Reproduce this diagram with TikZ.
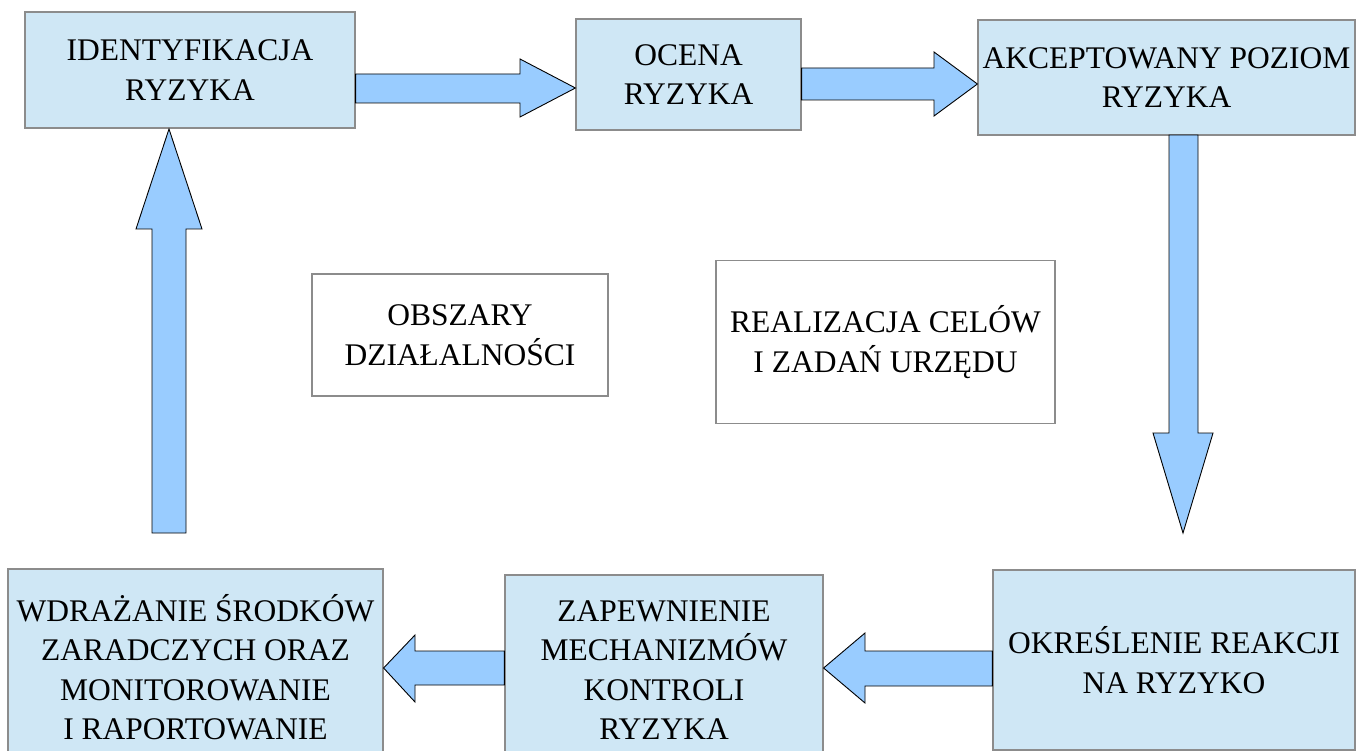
\documentclass[tikz,border=0pt]{standalone}
\usepackage{fontspec}
\setmainfont{Liberation Serif}
\definecolor{boxfill}{HTML}{CFE7F5}
\definecolor{arrowfill}{HTML}{99CCFF}
\definecolor{boxline}{HTML}{8C8C8C}
\begin{document}
\begin{tikzpicture}[x=1pt,y=-1pt,
  txt/.style={font=\fontsize{31.5}{39.5}\selectfont, align=center, inner sep=0pt, text=black},
  bluebox/.style={txt, rectangle, draw=boxline, line width=1.2pt, fill=boxfill},
  whitebox/.style={txt, rectangle, draw=boxline, line width=1.2pt, fill=white},
  barrow/.style={draw=black, line width=0.9pt, fill=arrowfill, line join=miter}]
\useasboundingbox (0,0) rectangle (1356,751);
\fill[white] (0,0) rectangle (1356,751);

% boxes
\node[bluebox, minimum width=330pt, minimum height=116pt] (b1) at (190,70) {IDENTYFIKACJA\\RYZYKA};
\node[bluebox, minimum width=225pt, minimum height=111pt] (b2) at (688.5,74.5) {OCENA\\RYZYKA};
\node[bluebox, minimum width=377pt, minimum height=115pt] (b3) at (1166.5,77.5) {AKCEPTOWANY POZIOM\\RYZYKA};
\node[bluebox, minimum width=362pt, minimum height=180pt] (b4) at (1174,660) {OKREŚLENIE REAKCJI\\NA RYZYKO};
\node[bluebox, minimum width=318pt, minimum height=190pt] (b5) at (664,670) {ZAPEWNIENIE\\MECHANIZMÓW\\KONTROLI\\RYZYKA};
\node[bluebox, minimum width=375pt, minimum height=196pt] (b6) at (195.5,667) {WDRAŻANIE ŚRODKÓW\\ZARADCZYCH ORAZ\\MONITOROWANIE\\I RAPORTOWANIE};
\node[whitebox, minimum width=296pt, minimum height=122pt] (m1) at (460,335) {OBSZARY\\DZIAŁALNOŚCI};
\node[whitebox, minimum width=339pt, minimum height=163pt] (m2) at (885.5,342) {REALIZACJA CELÓW\\I ZADAŃ URZĘDU};

% block arrows
% b1 -> b2
\draw[barrow] (b1.east |- 0,74) -- (520,74) -- (520,59) -- (b2.west |- 0,88) -- (520,117) -- (520,103) -- (b1.east |- 0,103) -- cycle;
% b2 -> b3
\draw[barrow] (b2.east |- 0,68) -- (934,68) -- (934,52) -- (b3.west |- 0,84) -- (934,116) -- (934,100) -- (b2.east |- 0,100) -- cycle;
% b3 -> b4
\draw[barrow] (1169,135) -- (1169,433) -- (1153,433) -- (1183,533) -- (1213,433) -- (1198,433) -- (1198,135) -- cycle;
% b4 -> b5
\draw[barrow] (b4.west |- 0,651) -- (865,651) -- (865,633) -- (b5.east |- 0,668) -- (865,703) -- (865,686) -- (b4.west |- 0,686) -- cycle;
% b5 -> b6
\draw[barrow] (b5.west |- 0,651) -- (415,651) -- (415,635) -- (b6.east |- 0,668) -- (415,702) -- (415,685) -- (b5.west |- 0,685) -- cycle;
% b6 -> b1
\draw[barrow] (152,533) -- (152,229) -- (136,229) -- (169,129) -- (202,229) -- (186,229) -- (186,533) -- cycle;
\end{tikzpicture}
\end{document}
